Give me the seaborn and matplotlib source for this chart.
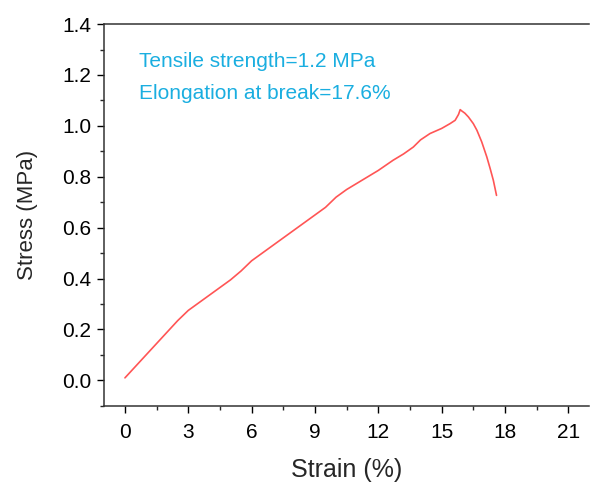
import matplotlib
matplotlib.use("Agg")
import matplotlib.pyplot as plt
import seaborn as sns
import pandas as pd
from matplotlib.ticker import MultipleLocator

strain = [0, 0.5, 1, 1.5, 2, 2.5, 3, 3.5, 4, 4.5, 5, 5.5, 6, 6.5, 7, 7.5, 8, 8.5,
          9, 9.5, 10, 10.5, 11, 11.5, 12, 12.7, 13.2, 13.66, 14.0, 14.45, 15.0,
          15.4, 15.64, 15.8, 15.88, 15.95, 16.1, 16.27, 16.5, 16.67, 16.9, 17.14,
          17.3, 17.45, 17.6]
stress = [0.01, 0.055, 0.10, 0.145, 0.19, 0.235, 0.275, 0.305, 0.335, 0.365, 0.395,
          0.43, 0.47, 0.50, 0.53, 0.56, 0.59, 0.62, 0.65, 0.68, 0.72, 0.75, 0.775,
          0.80, 0.825, 0.865, 0.89, 0.917, 0.945, 0.97, 0.99, 1.009, 1.022, 1.045,
          1.064, 1.059, 1.05, 1.035, 1.009, 0.983, 0.937, 0.878, 0.832, 0.786, 0.727]
x_ticks = [0, 3, 6, 9, 12, 15, 18, 21]
y_ticks = [0.0, 0.2, 0.4, 0.6, 0.8, 1.0, 1.2, 1.4]
notes = ["Tensile strength=1.2 MPa", "Elongation at break=17.6%"]

sns.set_style("ticks")
plt.rcParams['font.family'] = ['Liberation Sans', 'DejaVu Sans']

df = pd.DataFrame({"Strain": strain, "Stress": stress})
fig = plt.figure(figsize=(5.9, 4.82), dpi=100)
ax = fig.add_axes([0.176, 0.158, 0.823, 0.792])
sns.lineplot(data=df, x="Strain", y="Stress", ax=ax, color="#FF5555", lw=1.2,
             sort=False, estimator=None)
ax.set_xlim(-1, 22)
ax.set_ylim(-0.1, 1.4)
ax.set_xticks(x_ticks)
ax.set_yticks(y_ticks)
ax.set_yticklabels([f"{v:.1f}" for v in y_ticks])
ax.xaxis.set_minor_locator(MultipleLocator(1.5))
ax.yaxis.set_minor_locator(MultipleLocator(0.1))
ax.tick_params(which="major", direction="out", length=5, width=1, labelsize=15, colors="black")
ax.tick_params(axis="x", which="major", pad=7)
ax.tick_params(axis="y", which="major", pad=4)
ax.tick_params(which="minor", direction="out", length=3, width=1)
ax.spines["right"].set_visible(False)
for s in ["left", "bottom", "top"]:
    ax.spines[s].set_color("#333333")
    ax.spines[s].set_linewidth(1.1)
ax.set_xlabel("Strain (%)", fontsize=18, labelpad=12)
ax.set_ylabel("Stress (MPa)", fontsize=16, labelpad=17)
ax.text(0.072, 0.888, notes[0], transform=ax.transAxes, fontsize=15, color="#1AAEE0", va="baseline")
ax.text(0.072, 0.805, notes[1], transform=ax.transAxes, fontsize=15, color="#1AAEE0", va="baseline")
fig.savefig("out.png", dpi=100)
